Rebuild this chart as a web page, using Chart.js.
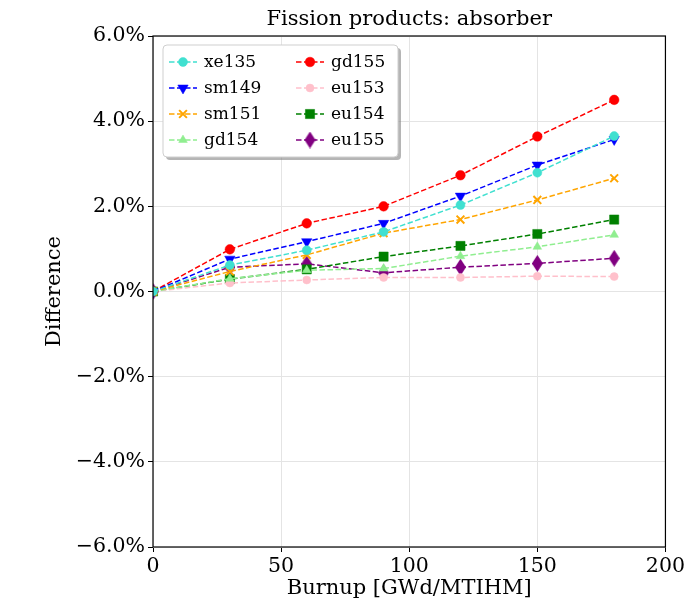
<!DOCTYPE html>
<html>
<head>
<meta charset="utf-8">
<script src="https://cdn.jsdelivr.net/npm/chart.js@4/dist/chart.umd.min.js"></script>
<style>
  html, body { margin: 0; padding: 0; background: #fff; }
  #wrap { width: 687px; height: 604px; position: relative; }
</style>
</head>
<body>
<div id="wrap"><canvas id="c" width="687" height="604"></canvas></div>
<script>
// Burnup steps (GWd/MTIHM)
const burnup = [0, 30, 60, 90, 120, 150, 180];

// Relative difference (%) per absorber nuclide
const xe135 = [0, 0.62, 0.97, 1.40, 2.03, 2.79, 3.65];
const sm149 = [0, 0.76, 1.17, 1.60, 2.24, 2.97, 3.57];
const sm151 = [0, 0.47, 0.86, 1.37, 1.69, 2.15, 2.66];
const gd154 = [0, 0.30, 0.50, 0.54, 0.83, 1.05, 1.33];
const gd155 = [0, 0.99, 1.60, 2.00, 2.73, 3.64, 4.50];
const eu153 = [0, 0.20, 0.27, 0.33, 0.33, 0.36, 0.35];
const eu154 = [0, 0.29, 0.52, 0.82, 1.07, 1.35, 1.69];
const eu155 = [0, 0.57, 0.65, 0.44, 0.57, 0.66, 0.78];

const xTicks = [0, 50, 100, 150, 200];
const yTicks = [-6, -4, -2, 0, 2, 4, 6];

const SERIF = "'DejaVu Serif', serif";

// tall, thin diamond marker as a small canvas
function thinDiamond(color, w, h) {
  const c = document.createElement('canvas');
  c.width = w; c.height = h;
  const g = c.getContext('2d');
  g.fillStyle = color;
  g.beginPath();
  g.moveTo(w / 2, 0);
  g.lineTo(w, h / 2);
  g.lineTo(w / 2, h);
  g.lineTo(0, h / 2);
  g.closePath();
  g.fill();
  return c;
}

function series(label, values, color, style, radius, rotation) {
  return {
    label: label,
    data: burnup.map((b, i) => ({ x: b, y: values[i] })),
    borderColor: color,
    backgroundColor: color,
    pointBorderColor: color,
    pointBackgroundColor: color,
    pointStyle: style,
    pointRadius: radius,
    pointRotation: rotation || 0,
    pointBorderWidth: style === 'cross' || style === 'crossRot' ? 2 : 0.5,
    borderWidth: 1.5,
    borderDash: [5.5, 2.5],
    tension: 0,
    fill: false
  };
}

// legend order: column-major, two columns
const datasets = [
  series('xe135', xe135, '#40E0D0', 'circle', 4.5),
  series('sm149', sm149, '#0000FF', 'triangle', 6, 180),
  series('sm151', sm151, '#FFA500', 'crossRot', 5.5),
  series('gd154', gd154, '#90EE90', 'triangle', 5),
  series('gd155', gd155, '#FF0000', 'circle', 4.8),
  series('eu153', eu153, '#FFC0CB', 'circle', 4),
  series('eu154', eu154, '#008000', 'rect', 6.5),
  series('eu155', eu155, '#800080', thinDiamond('#800080', 11, 17), 6)
];

// draw a marker, using Chart.js helpers when present
function marker(ctx, ds, x, y) {
  const opts = {
    pointStyle: ds.pointStyle,
    radius: ds.pointRadius,
    borderWidth: ds.pointBorderWidth,
    rotation: ds.pointRotation || 0
  };
  ctx.save();
  ctx.fillStyle = ds.pointBackgroundColor;
  ctx.strokeStyle = ds.pointBorderColor;
  ctx.lineWidth = ds.pointBorderWidth;
  if (Chart.helpers && Chart.helpers.drawPoint) {
    Chart.helpers.drawPoint(ctx, opts, x, y);
  } else {
    ctx.beginPath();
    ctx.arc(x, y, ds.pointRadius, 0, Math.PI * 2);
    ctx.fill();
  }
  ctx.restore();
}

// frame around the plot plus an in-plot two-column legend
const framePlugin = {
  id: 'frameAndLegend',
  afterDraw(chart) {
    const { ctx, chartArea: a } = chart;
    ctx.save();
    ctx.strokeStyle = '#000';
    ctx.lineWidth = 1.2;
    ctx.strokeRect(a.left, a.top, a.right - a.left, a.bottom - a.top);

    // legend box
    const bx = a.left + 10, by = a.top + 9, bw = 235, bh = 112;
    ctx.fillStyle = 'rgba(120,120,120,0.55)';
    roundRect(ctx, bx + 3, by + 3, bw, bh, 4);
    ctx.fill();
    ctx.fillStyle = '#fff';
    ctx.strokeStyle = '#cfcfcf';
    ctx.lineWidth = 1;
    roundRect(ctx, bx, by, bw, bh, 4);
    ctx.fill();
    ctx.stroke();

    ctx.font = "17px " + SERIF;
    ctx.textBaseline = 'middle';
    ctx.textAlign = 'left';
    const rows = [17, 43, 69, 95];
    const cols = [bx + 6, bx + 133];
    chart.data.datasets.forEach((ds, i) => {
      const c = Math.floor(i / 4), r = i % 4;
      const x0 = cols[c], y0 = by + rows[r];
      ctx.save();
      ctx.strokeStyle = ds.borderColor;
      ctx.lineWidth = ds.borderWidth;
      ctx.setLineDash(ds.borderDash);
      ctx.beginPath();
      ctx.moveTo(x0, y0);
      ctx.lineTo(x0 + 28, y0);
      ctx.stroke();
      ctx.restore();
      marker(ctx, ds, x0 + 14, y0);
      ctx.fillStyle = '#000';
      ctx.fillText(ds.label, x0 + 35, y0 + 1);
    });
    ctx.restore();
  }
};

function roundRect(ctx, x, y, w, h, r) {
  ctx.beginPath();
  ctx.moveTo(x + r, y);
  ctx.lineTo(x + w - r, y);
  ctx.arcTo(x + w, y, x + w, y + r, r);
  ctx.lineTo(x + w, y + h - r);
  ctx.arcTo(x + w, y + h, x + w - r, y + h, r);
  ctx.lineTo(x + r, y + h);
  ctx.arcTo(x, y + h, x, y + h - r, r);
  ctx.lineTo(x, y + r);
  ctx.arcTo(x, y, x + r, y, r);
  ctx.closePath();
}

new Chart(document.getElementById('c'), {
  type: 'line',
  data: { datasets: datasets },
  plugins: [framePlugin],
  options: {
    responsive: false,
    animation: false,
    layout: { padding: { left: 0, right: 20, top: 0, bottom: 0 } },
    plugins: {
      legend: { display: false },
      tooltip: { enabled: false },
      title: {
        display: true,
        text: 'Fission products: absorber',
        fullSize: false,
        color: '#000',
        font: { family: SERIF, size: 21, weight: 'normal' },
        padding: { top: 7, bottom: 3.8 }
      }
    },
    scales: {
      x: {
        type: 'linear',
        min: 0, max: 200,
        afterFit(s) { s.height = 57; },
        afterBuildTicks(s) { s.ticks = xTicks.map(v => ({ value: v })); },
        ticks: { color: '#000', font: { family: SERIF, size: 20.5 }, padding: 2, maxRotation: 0 },
        grid: { color: '#e4e4e4', lineWidth: 1, tickLength: 5, tickColor: '#000', drawTicks: true },
        border: { display: false },
        title: {
          display: true,
          text: 'Burnup [GWd/MTIHM]',
          color: '#000',
          font: { family: SERIF, size: 21 },
          padding: { top: 0, bottom: 2.4 }
        }
      },
      y: {
        type: 'linear',
        min: -6, max: 6,
        afterFit(s) { s.width = 153; },
        afterBuildTicks(s) { s.ticks = yTicks.map(v => ({ value: v })); },
        ticks: {
          color: '#000',
          font: { family: SERIF, size: 20.5 },
          padding: 3,
          callback: v => (v < 0 ? '\u2212' : '') + Math.abs(v).toFixed(1) + '%'
        },
        grid: { color: '#e4e4e4', lineWidth: 1, tickLength: 5, tickColor: '#000', drawTicks: true },
        border: { display: false },
        title: {
          display: true,
          text: 'Difference',
          color: '#000',
          font: { family: SERIF, size: 21 },
          padding: { top: 42.4, bottom: 0 }
        }
      }
    }
  }
});
</script>
</body>
</html>
